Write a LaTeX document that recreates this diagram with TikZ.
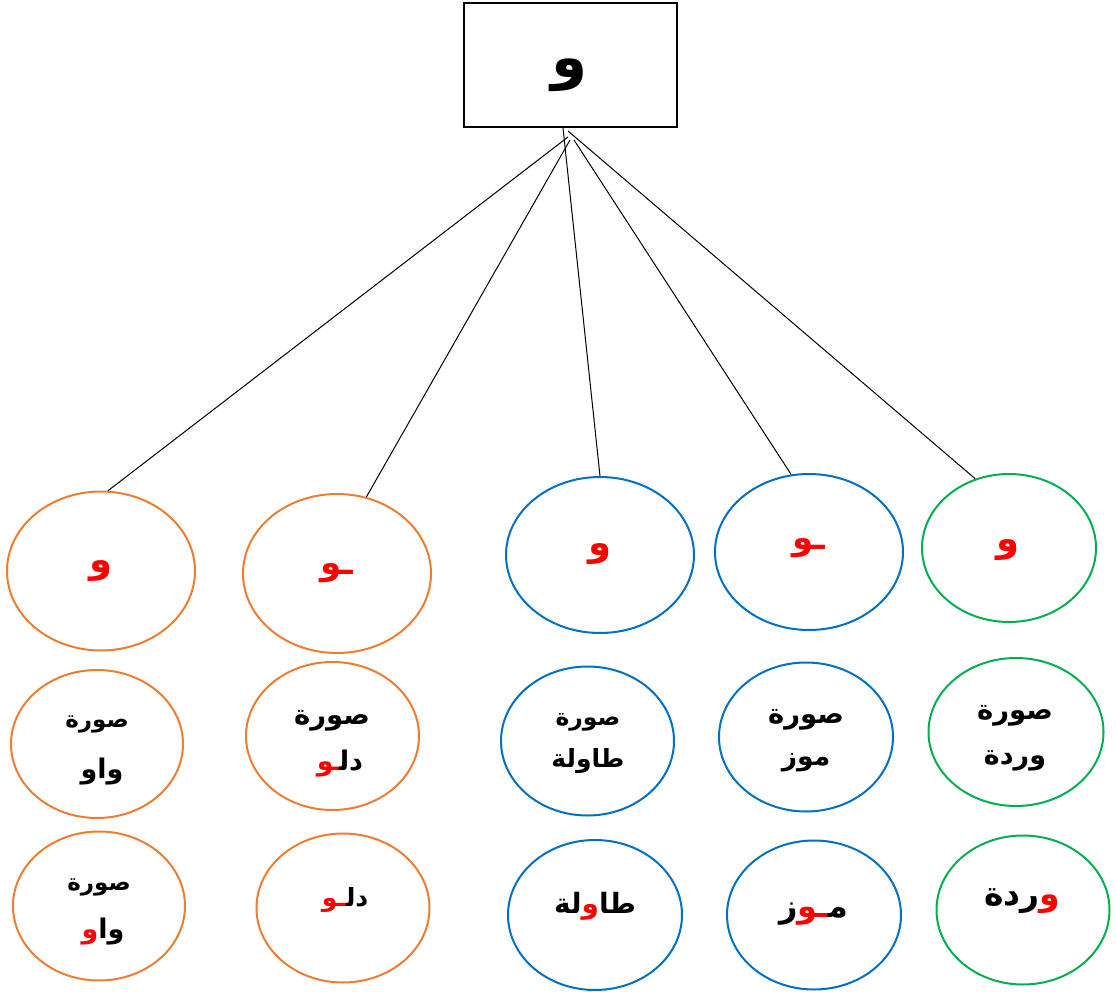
\documentclass[tikz,border=0pt]{standalone}
\usepackage{fontspec}
\usetikzlibrary{shapes.geometric}
\newfontfamily\arab[Script=Arabic,BoldFont={DejaVu Sans Bold}]{DejaVu Sans}
\definecolor{orng}{HTML}{ED7D31}
\definecolor{blu}{HTML}{0070C0}
\definecolor{grn}{HTML}{00B050}
\definecolor{rd}{HTML}{FF0000}
\def\zwj{^^^^200d}
\newcommand{\rw}[1]{\textcolor{rd}{#1}}
\tikzset{
  x=1pt, y=-1pt,
  bub/.style={ellipse, draw, line width=2pt, inner sep=0pt},
  ob/.style={bub, draw=orng},
  bb/.style={bub, draw=blu},
  gb/.style={bub, draw=grn},
  lbl/.style={inner sep=0pt, font=\arab\bfseries\fontsize{#1}{#1}\selectfont},
  conn/.style={line width=1pt, black}
}
\begin{document}
\begin{tikzpicture}
\useasboundingbox (0,0) rectangle (1116,992);
% top box
\node[draw, line width=2pt, minimum width=213pt, minimum height=124pt, inner sep=0pt] (top) at (570.5,65) {};
\node[lbl=58] (ttop) at (570,75) {و};
% row 1
\node[ob, minimum width=188pt, minimum height=159pt] (e1) at (101,571) {};
\node[ob, minimum width=188pt, minimum height=159pt] (e2) at (337,573.5) {};
\node[bb, minimum width=188pt, minimum height=156pt] (e3) at (600,555) {};
\node[bb, minimum width=188pt, minimum height=156pt] (e4) at (809,552) {};
\node[gb, minimum width=174pt, minimum height=148pt] (e5) at (1009,548) {};
% row 2
\node[ob, minimum width=172pt, minimum height=148pt] (f1) at (97,744) {};
\node[ob, minimum width=173pt, minimum height=148pt] (f2) at (332.5,736) {};
\node[bb, minimum width=173pt, minimum height=149pt] (f3) at (587.5,741) {};
\node[bb, minimum width=174pt, minimum height=149pt] (f4) at (806,737) {};
\node[gb, minimum width=175pt, minimum height=148pt] (f5) at (1016,732) {};
% row 3
\node[ob, minimum width=172pt, minimum height=149pt] (g1) at (99,906) {};
\node[ob, minimum width=173pt, minimum height=149pt] (g2) at (343,908) {};
\node[bb, minimum width=174pt, minimum height=150pt] (g3) at (595,915) {};
\node[bb, minimum width=174pt, minimum height=149pt] (g4) at (814,915) {};
\node[gb, minimum width=173pt, minimum height=149pt] (g5) at (1023,910) {};
% connectors
\coordinate (s1) at (568,137);
\coordinate (s2) at (570,140);
\coordinate (s3) at (563,128);
\coordinate (s4) at (574,140);
\coordinate (s5) at (568,131);
\draw[conn] (s1) -- (e1.85);
\draw[conn] (s2) -- (e2.69);
\draw[conn] (s3) -- (e3.90);
\draw[conn] (s4) -- (e4.103);
\draw[conn] (s5) -- (e5.116);
% row 1 letters
\node[lbl=37, text=rd] (te1) at (101,571) {و};
\node[lbl=34, text=rd] (te2) at (337,573) {ـو};
\node[lbl=37, text=rd] (te3) at (600,554) {و};
\node[lbl=34, text=rd] (te4) at (809,548) {ـو};
\node[lbl=37, text=rd] (te5) at (1008,550) {و};
% row 2
\node[lbl=23] (tf1a) at (97,724) {صورة};
\node[lbl=27] (tf1b) at (102,772) {واو};
\node[lbl=27.5] (tf2a) at (332,721) {صورة};
\node[lbl=27] (tf2b) at (340,764) {\rw{ـو}\kern-4pt دل\zwj};
\node[lbl=23.5] (tf3a) at (588,722) {صورة};
\node[lbl=25] (tf3b) at (588,761) {طاولة};
\node[lbl=27.5] (tf4a) at (806,720) {صورة};
\node[lbl=26.5] (tf4b) at (806,763) {موز};
\node[lbl=27.5] (tf5a) at (1015,716) {صورة};
\node[lbl=27] (tf5b) at (1015,761) {وردة};
% row 3
\node[lbl=23] (tg1a) at (99,887) {صورة};
\node[lbl=27] (tg1b) at (103,932) {\rw{و}وا};
\node[lbl=25] (tg2) at (345,900) {\rw{ـو}دل\zwj};
\node[lbl=28] (tg3) at (595,906) {لة\rw{و}طا};
\node[lbl=32] (tg4) at (814,914) {ز\rw{ـو}م\zwj};
\node[lbl=33] (tg5) at (1022,901) {ردة\rw{و}};
\end{tikzpicture}
\end{document}
